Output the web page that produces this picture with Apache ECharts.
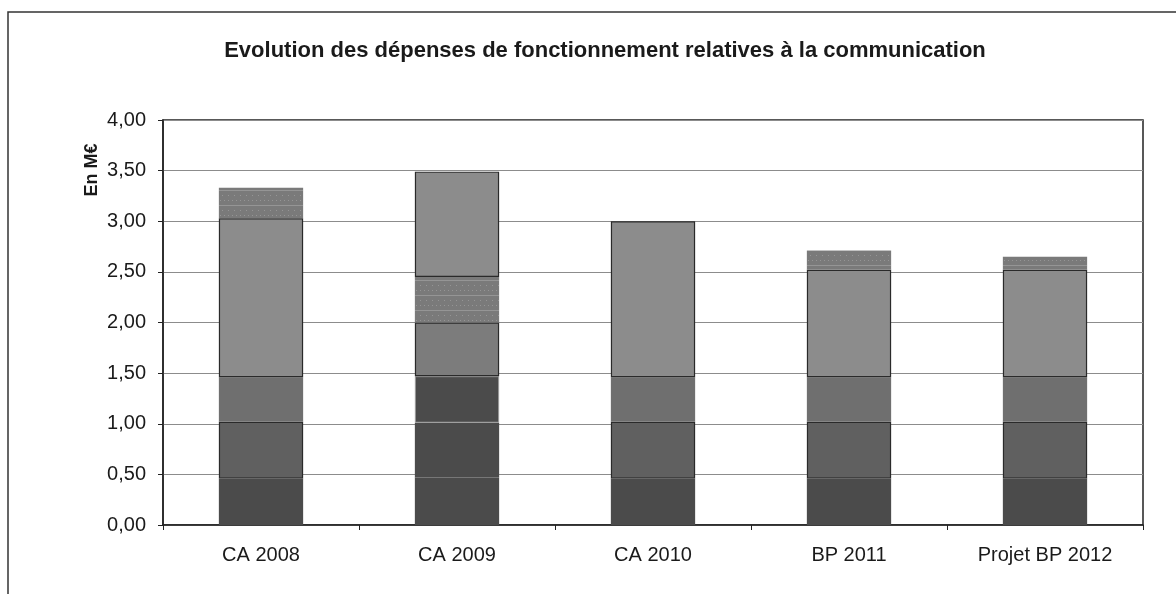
<!DOCTYPE html>
<html>
<head>
<meta charset="utf-8">
<script src="https://cdn.jsdelivr.net/npm/echarts@6/dist/echarts.min.js"></script>
<style>
  html, body { margin: 0; padding: 0; background: #fff; }
  #chart { width: 1176px; height: 594px; }
</style>
</head>
<body>
<div id="chart"></div>
<script>
// Dépenses de communication (M€)
const categories = ['CA 2008', 'CA 2009', 'CA 2010', 'BP 2011', 'Projet BP 2012'];
const yTicks = [0, 0.5, 1, 1.5, 2, 2.5, 3, 3.5, 4];

// segments empilés, du bas vers le haut
const seg1 = [0.46, 0.47, 0.46, 0.46, 0.46];
const seg2 = [0.56, 0.54, 0.56, 0.56, 0.56];
const seg3 = [0.44, 0.46, 0.44, 0.44, 0.44];
const seg4 = [1.57, 0.53, 1.54, 1.06, 1.06];
const seg5 = [0.30, 0.45, 0, 0.19, 0.13];
const seg6 = [0, 1.04, 0, 0, 0];

// couleurs (gris du scan)
const dark = '#4b4b4b';
const flatGray = '#6f6f6f';
const texDark = '#606060';
const texLight = '#8c8c8c';
const speckle = '#7a7a7a';

function toData(arr, overrides) {
    return arr.map(function(v, i) {
        if (v === 0) return '-';
        if (overrides && overrides[i]) {
            return { value: v, itemStyle: overrides[i] };
        }
        return v;
    });
}

const texBorder = { borderColor: '#2a2a2a', borderWidth: 1.2 };
const speckleDecal = {
    symbol: 'rect',
    symbolSize: 0.6,
    color: 'rgba(255,255,255,0.7)',
    dashArrayX: [[1, 0], [1, 5], [1, 3]],
    dashArrayY: [1, 4],
    rotation: 0
};

function bar(name, data, itemStyle) {
    return {
        name: name,
        type: 'bar',
        stack: 'total',
        barWidth: '43%',
        data: data,
        itemStyle: itemStyle,
        emphasis: { disabled: true }
    };
}

const series = [
    bar('s1', toData(seg1), { color: dark }),
    bar('s2', toData(seg2, { 1: { color: dark, borderWidth: 0 } }),
        Object.assign({ color: texDark }, texBorder)),
    bar('s3', toData(seg3, { 1: { color: dark, borderColor: '#9a9a9a', borderWidth: 1 } }),
        { color: flatGray }),
    bar('s4', toData(seg4, { 1: { color: '#7c7c7c', borderColor: '#2a2a2a', borderWidth: 1.2 } }),
        Object.assign({ color: texLight }, texBorder)),
    bar('s5', toData(seg5), { color: speckle, decal: speckleDecal }),
    bar('s6', toData(seg6), Object.assign({ color: texLight }, texBorder))
];

const option = {
    backgroundColor: '#ffffff',
    animation: false,
    title: {
        text: 'Evolution des dépenses de fonctionnement relatives à la communication',
        left: 600,
        top: 35,
        textAlign: 'center',
        textStyle: {
            fontFamily: 'Liberation Sans',
            fontSize: 22,
            fontWeight: 'bold',
            color: '#1a1a1a'
        }
    },
    graphic: [
        {
            type: 'rect',
            shape: { x: 8, y: 12, width: 1200, height: 620 },
            style: { fill: 'none', stroke: '#333', lineWidth: 1.5 },
            silent: true
        },
        {
            type: 'text',
            x: 92,
            y: 170,
            rotation: Math.PI / 2,
            style: {
                text: 'En M€',
                fontFamily: 'Liberation Sans',
                fontSize: 18,
                fontWeight: 'bold',
                fill: '#1a1a1a',
                align: 'center',
                verticalAlign: 'middle'
            }
        }
    ],
    grid: {
        left: 163,
        right: 33,
        top: 120,
        bottom: 69,
        show: true,
        borderColor: '#222',
        borderWidth: 1.5,
        backgroundColor: 'transparent'
    },
    legend: { show: false },
    tooltip: { show: false },
    xAxis: {
        type: 'category',
        data: categories,
        axisLine: { lineStyle: { color: '#222', width: 1.5 } },
        axisTick: { show: true, alignWithLabel: false, length: 5, lineStyle: { color: '#222' } },
        axisLabel: {
            margin: 20,
            fontFamily: 'Liberation Sans',
            fontSize: 20,
            color: '#1a1a1a'
        }
    },
    yAxis: {
        type: 'value',
        min: yTicks[0],
        max: yTicks[yTicks.length - 1],
        interval: 0.5,
        axisLine: { show: true, lineStyle: { color: '#222', width: 1.5 } },
        axisTick: { show: true, length: 5, lineStyle: { color: '#222' } },
        splitLine: { lineStyle: { color: '#8c8c8c', width: 1.2 } },
        axisLabel: {
            margin: 17,
            fontFamily: 'Liberation Sans',
            fontSize: 20,
            color: '#1a1a1a',
            formatter: function(v) {
                return v.toFixed(2).replace('.', ',');
            }
        }
    },
    series: series
};

const chart = echarts.init(document.getElementById('chart'));
chart.setOption(option);
</script>
</body>
</html>
